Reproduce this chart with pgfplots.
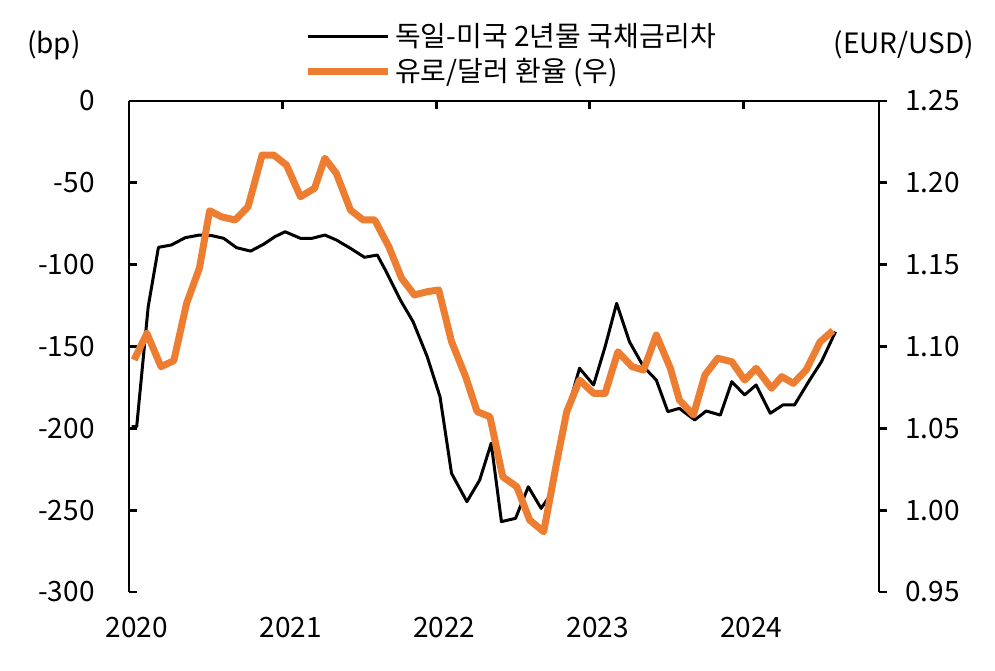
\documentclass[border=0pt]{standalone}
\usepackage{fontspec}
\setmainfont{Noto Sans CJK KR}
\usepackage{pgfplots}
\pgfplotsset{compat=1.18}

\definecolor{eurorange}{RGB}{237,125,49}

\pgfplotsset{
  base/.style={
    scale only axis, width=375pt, height=245.5pt,
    xmin=0, xmax=58.6,
    /pgf/number format/assume math mode=true,
    font=\fontsize{14}{16}\selectfont,
    tick style={line width=1.4pt, black},
    major tick length=4pt,
    axis line style={line width=1.4pt},
  }
}

\begin{document}
\begin{tikzpicture}
\path[use as bounding box] (-64.5pt,-39pt) rectangle (433pt,296pt);

\begin{axis}[base,
  axis x line*=top, axis y line*=left,
  ymin=-300, ymax=0, ytick={-300,-250,-200,-150,-100,-50,0},
  xtick={0,12,24,36,48}, xticklabels={2020,2021,2022,2023,2024},
  xtick align=inside, ytick align=inside,
  xticklabel style={anchor=north, inner sep=0pt, yshift=-258pt, xshift=4pt},
  yticklabel style={anchor=east, inner sep=0pt, xshift=-17pt},
  legend style={at={(0.225,1.176)}, anchor=north west, draw=none, fill=none,
    font=\fontsize{14}{16}\selectfont, row sep=0.5pt, cells={anchor=west}},
  legend image code/.code={\draw[#1] (0pt,0pt) -- (40pt,0pt);},
  clip=false,
]
\addplot[black, line width=1.5pt, line join=round] coordinates {
(0.2,-199)(0.6,-199)(1.5,-125.7)(2.3,-89.4)(3.3,-88)(4.4,-83.5)(5.5,-81.9)(6.5,-82.3)
(7.4,-83.9)(8.4,-89.6)(9.5,-91.7)(10.5,-87.6)(11.4,-82.9)(12.2,-79.9)(13.4,-83.9)
(14.3,-83.9)(15.3,-81.9)(16.2,-84.9)(17.3,-90)(18.4,-95.5)(19.4,-94.1)(20.1,-104.3)
(21.2,-121.6)(22.2,-134.9)(23.3,-156.2)(24.3,-180.7)(25.2,-227.5)(26.4,-244.8)
(27.4,-231.6)(28.3,-209.1)(29.1,-257)(30.2,-255)(31.2,-235.7)(32.2,-248.9)
(33.1,-238.7)(34.2,-190.8)(35.2,-163.3)(36.3,-173.5)(37.2,-150.1)(38.1,-123.6)
(39.1,-147.1)(40.2,-162.3)(41.2,-170.5)(42.1,-189.8)(43.0,-187.8)(44.2,-194.9)
(45.1,-189.4)(46.2,-191.9)(47.1,-171.5)(48.1,-179.6)(49.0,-173.5)(50.1,-190.8)
(51.1,-185.7)(52.0,-185.7)(53.1,-171.5)(54.1,-159.3)(55.2,-141)
};
\addlegendentry{독일-미국 2년물 국채금리차}
\addlegendimage{eurorange, line width=3.5pt}
\addlegendentry{유로/달러 환율 (우)}
\node at (rel axis cs:-0.1,1.114) {(bp)};
\node at (rel axis cs:1.033,1.114) {(EUR/USD)};
\end{axis}

\begin{axis}[base,
  axis x line=none, axis y line*=right,
  ymin=0.95, ymax=1.25, ytick={0.95,1,1.05,1.1,1.15,1.2,1.25},
  ytick align=outside,
  yticklabel style={anchor=west, inner sep=0pt, xshift=9pt,
    /pgf/number format/.cd, fixed, fixed zerofill, precision=2},
]
\addplot[eurorange, line width=3.5pt, line join=round] coordinates {
(0.4,1.0918)(1.4,1.108)(2.5,1.0877)(3.5,1.0913)(4.5,1.1264)(5.5,1.1478)(6.3,1.183)
(7.2,1.1793)(8.3,1.1773)(9.3,1.1854)(10.4,1.217)(11.3,1.217)(12.3,1.2109)(13.4,1.1915)
(14.5,1.1967)(15.3,1.215)(16.2,1.2058)(17.3,1.1834)(18.3,1.1773)(19.2,1.1773)
(20.3,1.161)(21.3,1.1417)(22.3,1.1315)(23.3,1.1335)(24.2,1.1345)(25.2,1.103)
(26.3,1.0816)(27.2,1.0602)(28.2,1.0571)(29.2,1.0204)(30.3,1.0143)(31.3,0.994)
(32.4,0.9868)(33.4,1.0286)(34.2,1.0602)(35.2,1.0795)(36.3,1.0714)(37.2,1.0714)
(38.2,1.0968)(39.3,1.0877)(40.2,1.0856)(41.2,1.107)(42.3,1.0867)(43.0,1.0673)
(44.1,1.0582)(45.0,1.0826)(46.0,1.0928)(47.1,1.0907)(48.1,1.0795)(49.0,1.0867)
(50.2,1.0745)(51.0,1.0816)(51.9,1.0775)(52.9,1.0856)(54.0,1.1029)(55.0,1.1097)
};
\end{axis}
\end{tikzpicture}
\end{document}
